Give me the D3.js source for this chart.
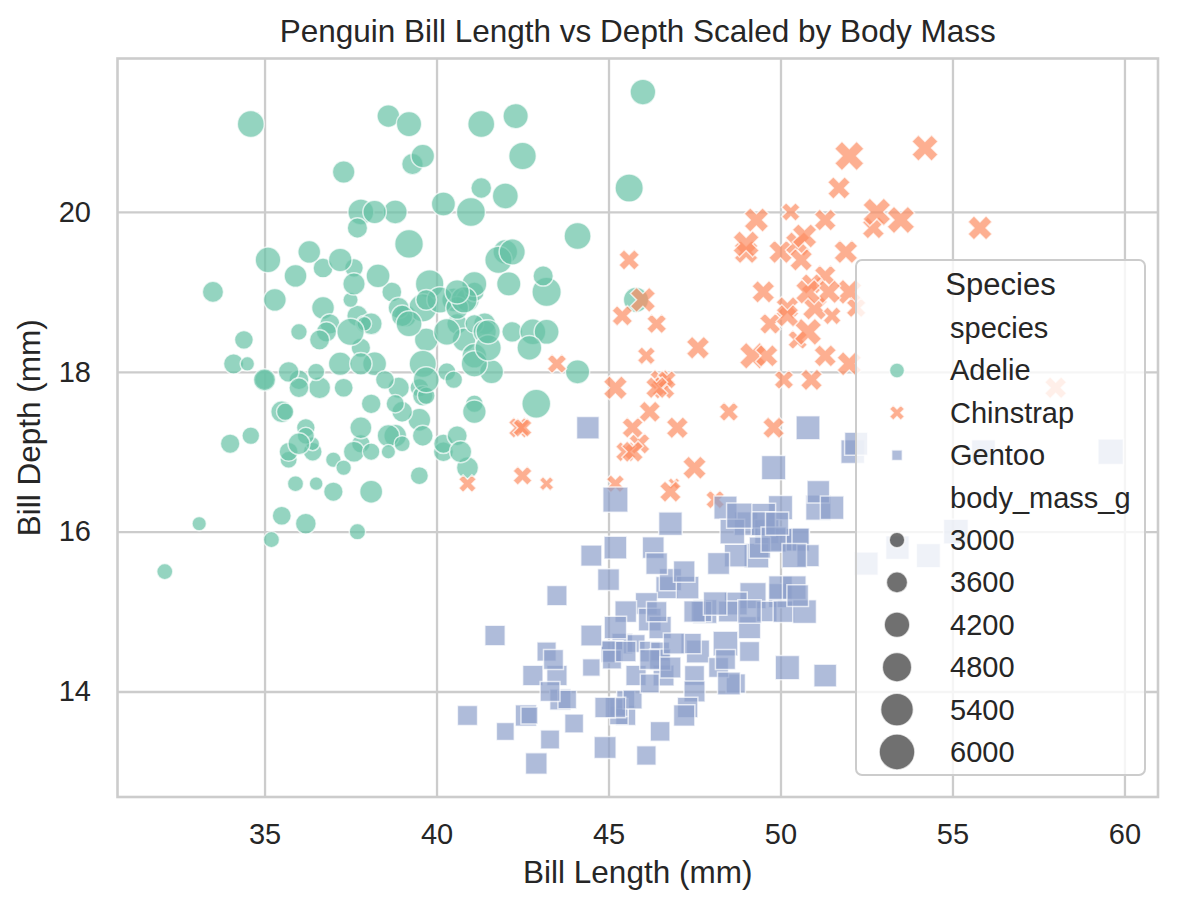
<!DOCTYPE html>
<html>
<head>
<meta charset="utf-8">
<script src="https://cdn.jsdelivr.net/npm/d3@7"></script>
<style>
  body { margin: 0; background: #fff; }
  text { font-family: "Liberation Sans", Arial, sans-serif; fill: #262626; }
</style>
</head>
<body>
<div id="chart"></div>
<script>
// Palmer penguins, one set of arrays per species (bill length, bill depth, body mass)
const adelieLength = [39.1,39.5,40.3,36.7,39.3,38.9,39.2,34.1,42.0,37.8,37.8,41.1,38.6,34.6,36.6,38.7,42.5,34.4,46.0,37.8,
  37.7,35.9,38.2,38.8,35.3,40.6,40.5,37.9,40.5,39.5,37.2,39.5,40.9,36.4,39.2,38.8,42.2,37.6,39.8,36.5,
  40.8,36.0,44.1,37.0,39.6,41.1,37.5,36.0,42.3,39.6,40.1,35.0,42.0,34.5,41.4,39.0,40.6,36.5,37.6,35.7,
  41.3,37.6,41.1,36.4,41.6,35.5,41.1,35.9,41.8,33.5,39.7,39.6,45.8,35.5,42.8,40.9,37.2,36.2,42.1,34.6,
  42.9,36.7,35.1,37.3,41.3,36.3,36.9,38.3,38.9,35.7,41.1,34.0,39.6,36.2,40.8,38.1,40.3,33.1,43.2,35.0,
  41.0,37.7,37.8,37.9,39.7,38.6,38.2,38.1,43.2,38.1,45.6,39.7,42.2,39.6,42.7,38.6,37.3,35.7,41.1,36.2,
  37.7,40.2,41.4,35.2,40.6,38.8,41.5,39.0,44.1,38.5,43.1,36.8,37.5,38.1,41.1,35.6,40.2,37.0,39.7,40.2,
  40.6,32.1,40.7,37.3,39.0,39.2,36.6,36.0,37.8,36.0,41.5]
const adelieDepth = [18.7,17.4,18.0,19.3,20.6,17.8,19.6,18.1,20.2,17.1,17.3,17.6,21.2,21.1,17.8,19.0,20.7,18.4,21.5,18.3,
  18.7,19.2,18.1,17.2,18.9,18.6,17.9,18.6,18.9,16.7,18.1,17.8,18.9,17.0,21.1,20.0,18.5,19.3,19.1,18.0,
  18.4,18.5,19.7,16.9,18.8,19.0,18.9,17.9,21.2,17.7,18.9,17.9,19.5,18.1,18.6,17.5,18.8,16.6,19.1,16.9,
  21.1,17.0,18.2,17.1,18.0,16.2,19.1,16.6,19.4,19.0,18.4,17.2,18.9,17.5,18.5,16.8,19.4,16.1,19.1,17.2,
  17.6,18.8,19.4,17.8,20.3,19.5,18.6,19.2,18.8,18.0,18.1,17.1,18.1,17.3,18.9,18.6,18.5,16.1,18.5,17.9,
  20.0,16.0,20.0,18.6,18.9,17.2,20.0,17.0,19.0,16.5,20.3,17.7,19.5,20.7,18.3,17.0,20.5,17.0,18.6,17.2,
  19.8,17.0,18.5,15.9,19.0,17.6,18.3,17.1,18.0,17.9,19.2,18.5,18.5,17.6,17.5,17.5,20.1,16.5,17.9,17.1,
  17.2,15.5,17.0,16.8,18.7,18.6,18.4,17.8,18.1,17.1,18.5]
const adelieMass = [3750,3800,3250,3450,3650,3625,4675,3475,4250,3300,3700,3200,3800,4400,3700,3450,4500,3325,4200,3400,
  3600,3800,3950,3800,3800,3550,3200,3150,3950,3250,3900,3300,3900,3325,4150,3950,3550,3300,4650,3150,
  3900,3100,4400,3000,4600,3425,2975,3450,4150,3500,4300,3450,4050,2900,3700,3550,3800,2850,3750,3150,
  4400,3600,4050,2850,3950,3350,4100,3050,4450,3600,3900,3550,4150,3700,4250,3700,3900,3550,4000,3200,
  4700,3800,4200,3350,3550,3800,3500,3950,3600,3550,4300,3400,4450,3300,4300,3700,4350,2900,4100,3725,
  4725,3075,4250,2925,3550,3750,3900,3175,4775,3825,4600,3200,4275,3900,4075,2900,3775,3350,3325,3150,
  3500,3450,3875,3050,4000,3275,4300,3050,4000,3325,3500,3500,4475,3425,3900,3175,3975,3400,4250,3400,
  3475,3050,3725,3000,3650,4250,3475,3450,3750,3700,4000]

const chinstrapLength = [46.5,50.0,51.3,45.4,52.7,45.2,46.1,51.3,46.0,51.3,46.6,51.7,47.0,52.0,45.9,50.5,50.3,58.0,46.4,49.2,
  42.4,48.5,43.2,50.6,46.7,52.0,50.5,49.5,46.4,52.8,40.9,54.2,42.5,51.0,49.7,47.5,47.6,52.0,46.9,53.5,
  49.0,46.2,50.9,45.5,50.9,50.8,50.1,49.0,51.5,49.8,48.1,51.4,45.7,50.7,42.5,52.2,45.2,49.3,50.2,45.6,
  51.9,46.8,45.7,55.8,43.5,49.6,50.8,50.2]
const chinstrapDepth = [17.9,19.5,19.2,18.7,19.8,17.8,18.2,18.2,18.9,19.9,17.8,20.3,17.3,18.1,17.1,19.6,20.0,17.8,18.6,18.2,
  17.3,17.5,16.6,19.4,17.9,19.0,18.4,19.0,17.8,20.0,16.6,20.8,16.7,18.8,18.6,16.8,18.3,20.7,16.6,19.9,
  19.5,17.5,19.1,17.0,17.9,18.5,17.9,19.6,18.7,17.3,16.4,19.0,17.3,19.7,17.3,18.8,16.6,19.9,18.8,19.4,
  19.5,16.5,17.0,19.8,18.1,18.2,19.0,18.7]
const chinstrapMass = [3500,3900,3650,3525,3725,3950,3250,3750,4150,3700,3800,3775,3700,4050,3575,4050,3300,3700,3450,4400,
  3600,3400,2900,3800,3300,4150,3400,3800,3700,4550,3200,4300,3350,4100,3600,3900,3850,4800,2700,4500,
  3950,3650,3550,3500,3675,4450,3400,4300,3250,3675,3325,3950,3600,4050,3350,3450,3250,4050,3800,3525,
  3950,3650,3650,4000,3400,3775,4100,3775]

const gentooLength = [46.1,50.0,48.7,50.0,47.6,46.5,45.4,46.7,43.3,46.8,40.9,49.0,45.5,48.4,45.8,49.3,42.0,49.2,46.2,48.7,
  50.2,45.1,46.5,46.3,42.9,46.1,44.5,47.8,48.2,50.0,47.3,42.8,45.1,59.6,49.1,48.4,42.6,44.4,44.0,48.7,
  42.7,49.6,45.3,49.6,50.5,43.6,45.5,50.5,44.9,45.2,46.6,48.5,45.1,50.1,46.5,45.0,43.8,45.5,43.2,50.4,
  45.3,46.2,45.7,54.3,45.8,49.8,46.2,49.5,43.5,50.7,47.7,46.4,48.2,46.5,46.4,48.6,47.5,51.1,45.2,45.2,
  49.1,52.5,47.4,50.0,44.9,50.8,43.4,51.3,47.5,52.1,47.5,52.2,45.5,49.5,44.5,50.8,49.4,46.9,48.4,51.1,
  48.5,55.9,47.2,49.1,47.3,46.8,41.7,53.4,43.3,48.1,50.5,49.8,43.5,51.5,46.2,55.1,44.5,48.8,47.2,46.8,
  50.4,45.2,49.9]
const gentooDepth = [13.2,16.3,14.1,15.2,14.5,13.5,14.6,15.3,13.4,15.4,13.7,16.1,13.7,14.6,14.6,15.7,13.5,15.2,14.5,15.1,
  14.3,14.5,14.5,15.8,13.1,15.1,14.3,15.0,14.3,15.3,15.3,14.2,14.5,17.0,14.8,16.3,13.7,17.3,13.6,15.7,
  13.7,16.0,13.7,15.0,15.9,13.9,13.9,15.9,13.3,15.8,14.2,14.1,14.4,15.0,14.4,15.4,13.9,15.0,14.5,15.3,
  13.8,14.9,13.9,15.7,14.2,16.8,14.4,16.2,14.2,15.0,15.0,15.6,15.6,14.8,15.0,16.0,14.2,16.3,13.8,16.4,
  14.5,15.6,14.6,15.9,13.8,17.3,14.4,14.2,14.0,17.0,15.0,17.1,14.5,16.1,14.7,15.7,15.8,14.6,14.4,16.5,
  15.0,17.0,15.5,15.0,13.8,16.1,14.7,15.8,14.0,15.1,15.2,15.9,15.2,16.3,14.1,16.0,15.7,16.2,13.7,14.3,
  15.7,14.8,16.1]
const gentooMass = [4500,5700,4450,5700,5400,4550,4800,5200,4400,5150,4650,5550,4650,5850,4200,5850,4150,6300,4800,5350,
  5700,5000,4400,5050,5000,5100,4100,5650,4600,5550,5250,4700,5050,6050,5150,5400,4950,5250,4350,5350,
  3950,5700,4300,4750,5550,4900,4200,5400,5100,5300,4850,5300,4400,5000,4900,5050,4300,5000,4450,5550,
  4200,5300,4400,5650,4700,5700,4650,5800,4700,5550,4750,5000,5100,5200,4700,5800,4600,6000,4750,5950,
  4625,5450,4725,5350,4750,5600,4600,5300,4875,5550,4950,5400,4750,5650,4850,5200,4925,4875,4625,5250,
  4850,5600,4975,5500,4725,5500,4700,5500,4575,5500,5000,5950,4650,5500,4375,5850,4875,6000,4925,4850,
  5750,5200,5400]

const species = ['Adelie', 'Chinstrap', 'Gentoo']
const colors = ['#66c2a5', '#fc8d62', '#8da0cb']
const xTicks = [35, 40, 45, 50, 55, 60]
const yTicks = [14, 16, 18, 20]
const sizeTicks = [3000, 3600, 4200, 4800, 5400, 6000]

const width = 1177, height = 909
const plotLeft = 117.5, plotRight = 1158, plotTop = 58.5, plotBottom = 797
const ptPx = 2.63   // pixels per point in the reference

// matplotlib style filled "X" marker, drawn in a box of side sqrt(size)
const xFilled = {
  draw(ctx, size) {
    const L = Math.sqrt(size)
    const pts = [[0.25,0],[0.5,0.25],[0.75,0],[1,0.25],[0.75,0.5],[1,0.75],
                 [0.75,1],[0.5,0.75],[0.25,1],[0,0.75],[0.25,0.5],[0,0.25]]
    pts.forEach((p, i) => {
      const px = (p[0] - 0.5) * L, py = (p[1] - 0.5) * L
      if (i) ctx.lineTo(px, py); else ctx.moveTo(px, py)
    })
    ctx.closePath()
  }
}
const symbolTypes = [d3.symbolCircle, xFilled, d3.symbolSquare]
// turn a marker "diameter" in px into the d3 symbol size for each marker kind
const symbolArea = [D => Math.PI / 4 * D * D, D => D * D, D => 0.5 * D * D]

let rows = []
;[[adelieLength, adelieDepth, adelieMass],
  [chinstrapLength, chinstrapDepth, chinstrapMass],
  [gentooLength, gentooDepth, gentooMass]].forEach((set, s) => {
  set[0].forEach((v, i) => rows.push({x: v, y: set[1][i], m: set[2][i], s: s}))
})

function padded(ext) {
  const p = (ext[1] - ext[0]) * 0.05
  return [ext[0] - p, ext[1] + p]
}

const x = d3.scaleLinear().domain(padded(d3.extent(rows, d => d.x))).range([plotLeft, plotRight])
const y = d3.scaleLinear().domain(padded(d3.extent(rows, d => d.y))).range([plotBottom, plotTop])
// seaborn sizes=(20, 200) in points^2, linear in area
const area = d3.scaleLinear().domain(d3.extent(rows, d => d.m)).range([20, 200])
const diam = m => Math.sqrt(area(m)) * ptPx

const svg = d3.select('#chart').append('svg')
  .attr('width', width).attr('height', height)

// grid via axes
const gx = svg.append('g')
  .attr('transform', `translate(0,${plotBottom})`)
  .call(d3.axisBottom(x).tickValues(xTicks).tickSizeInner(-(plotBottom - plotTop)).tickSizeOuter(0).tickPadding(26.5))
const gy = svg.append('g')
  .attr('transform', `translate(${plotLeft},0)`)
  .call(d3.axisLeft(y).tickValues(yTicks).tickSizeInner(-(plotRight - plotLeft)).tickSizeOuter(0).tickPadding(26.5))
;[gx, gy].forEach(g => {
  g.select('.domain').remove()
  g.selectAll('.tick line').attr('stroke', '#cccccc').attr('stroke-width', 2.3)
  g.selectAll('.tick text').attr('font-size', 29).attr('fill', '#262626')
    .style('font-family', '"Liberation Sans", Arial, sans-serif')
})

// points
svg.append('g').selectAll('path')
  .data(rows)
  .enter()
  .append('path')
    .attr('transform', d => `translate(${x(d.x)},${y(d.y)})`)
    .attr('d', d => d3.symbol().type(symbolTypes[d.s]).size(symbolArea[d.s](diam(d.m)))())
    .attr('fill', d => colors[d.s])
    .attr('fill-opacity', 0.7)
    .attr('stroke', '#fff')
    .attr('stroke-opacity', 0.7)
    .attr('stroke-width', 1.5)

// frame
svg.append('rect')
  .attr('x', plotLeft).attr('y', plotTop)
  .attr('width', plotRight - plotLeft).attr('height', plotBottom - plotTop)
  .attr('fill', 'none').attr('stroke', '#cccccc').attr('stroke-width', 2.6)

// titles
svg.append('text').attr('x', (plotLeft + plotRight) / 2).attr('y', 42)
  .attr('text-anchor', 'middle').attr('font-size', 31.5)
  .text('Penguin Bill Length vs Depth Scaled by Body Mass')
svg.append('text').attr('x', (plotLeft + plotRight) / 2).attr('y', 883)
  .attr('text-anchor', 'middle').attr('font-size', 31.5)
  .text('Bill Length (mm)')
svg.append('text')
  .attr('transform', `translate(40,${(plotTop + plotBottom) / 2}) rotate(-90)`)
  .attr('text-anchor', 'middle').attr('font-size', 31.5)
  .text('Bill Depth (mm)')

// legend
const leg = svg.append('g')
leg.append('rect')
  .attr('x', 856).attr('y', 260).attr('width', 289).attr('height', 515)
  .attr('rx', 6).attr('fill', '#fff').attr('fill-opacity', 0.8)
  .attr('stroke', '#cccccc').attr('stroke-width', 2)
leg.append('text').attr('x', 1000.5).attr('y', 295)
  .attr('text-anchor', 'middle').attr('font-size', 31).text('Species')

const legendRows = [{label: 'species'}]
  .concat(species.map((sp, i) => ({label: sp, s: i})))
  .concat([{label: 'body_mass_g'}])
  .concat(sizeTicks.map(m => ({label: String(m), m: m})))

legendRows.forEach((r, i) => {
  const base = 338 + 42.4 * i
  leg.append('text').attr('x', 950).attr('y', base).attr('font-size', 29).text(r.label)
  if (r.s !== undefined) {
    leg.append('path')
      .attr('transform', `translate(897,${base - 10})`)
      .attr('d', d3.symbol().type(symbolTypes[r.s]).size(symbolArea[r.s](15))())
      .attr('fill', colors[r.s]).attr('fill-opacity', 0.7)
      .attr('stroke', '#fff').attr('stroke-opacity', 0.7).attr('stroke-width', 1.5)
  } else if (r.m !== undefined) {
    leg.append('path')
      .attr('transform', `translate(897,${base - 10})`)
      .attr('d', d3.symbol().type(d3.symbolCircle).size(symbolArea[0](diam(r.m)))())
      .attr('fill', '#333333').attr('fill-opacity', 0.7)
      .attr('stroke', '#fff').attr('stroke-opacity', 0.7).attr('stroke-width', 1.5)
  }
})
</script>
</body>
</html>
